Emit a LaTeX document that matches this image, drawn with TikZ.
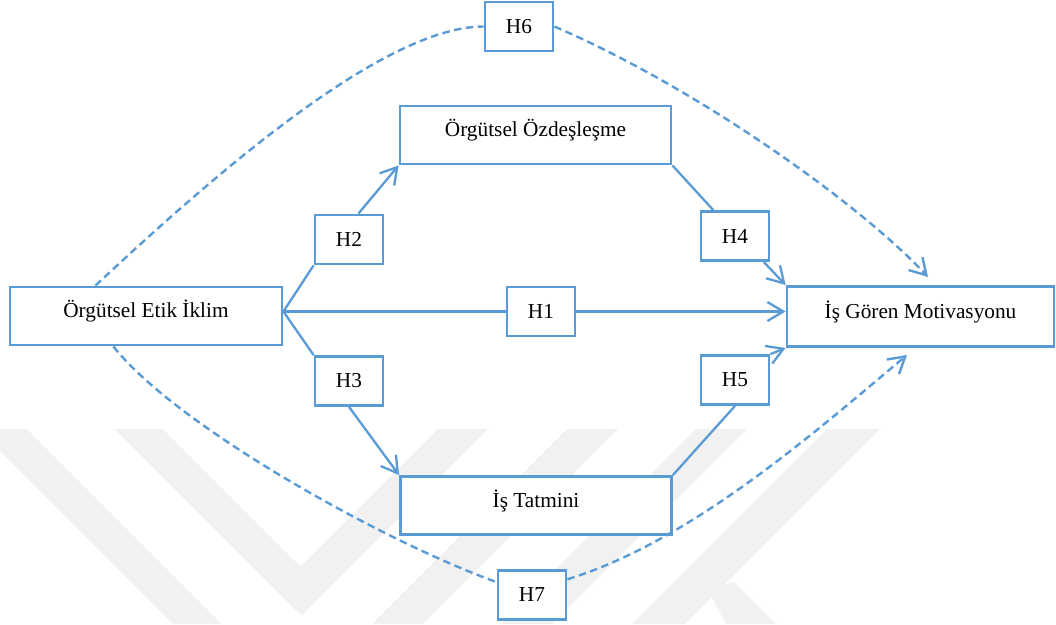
\documentclass[tikz,border=0pt]{standalone}
\usepackage{fontspec}
\setmainfont{Liberation Serif}
\usetikzlibrary{arrows.meta,calc}
\definecolor{lineblue}{HTML}{5B9BD5}
\definecolor{wmgray}{HTML}{F1F1F1}
\begin{document}
\begin{tikzpicture}[x=1pt,y=-1pt,
  every node/.style={font=\fontsize{21.3}{25}\selectfont},
  concept/.style={draw=lineblue, line width=2.8pt, fill=white,
    minimum width=#1, minimum height=58pt, inner sep=0pt,
    text height=12pt, text depth=9pt},
  hyp/.style={draw=lineblue, line width=2.8pt, fill=white,
    minimum width=68pt, minimum height=49pt, inner sep=0pt},
  link/.style={draw=lineblue, line width=2.3pt},
  arrowlink/.style={link, -{Straight Barb[length=16pt,width=19pt]}},
  dashlink/.style={link, line width=2.4pt, dash pattern=on 7.5pt off 4.5pt},
  dasharrow/.style={dashlink, -{Straight Barb[length=16pt,width=19pt]}},
]
% canvas
\fill[white] (0,0) rectangle (1056,624);
\useasboundingbox (0,0) rectangle (1056,624);

% pale background logo
\fill[wmgray] (-22,429) -- (27,429) -- (222,624) -- (173,624) -- cycle;
\fill[wmgray] (115,429) -- (163,429) -- (300.5,566.5) -- (438,429)
  -- (488,429) -- (301.5,615.5) -- cycle;
\fill[wmgray] (567,429) -- (618,429) -- (423,624) -- (372,624) -- cycle;
\fill[wmgray] (696,429) -- (747,429) -- (552,624) -- (501,624) -- cycle;
\fill[wmgray] (827,429) -- (880,429) -- (685,624) -- (632,624) -- cycle;
\fill[wmgray] (708,590) -- (734,582) -- (776,624) -- (726,624) -- cycle;

% constructs
\node[concept=272pt] (etik) at (146,316) {Örgütsel Etik İklim};
\node[concept=271pt] (oz) at (535.5,135) {Örgütsel Özdeşleşme};
\node[concept=271pt] (tm) at (536,505.5) {İş Tatmini};
\node[concept=267pt, minimum height=60pt] (mot) at (920.5,316.5) {İş Gören Motivasyonu};

% hypotheses
\node[hyp] (h6) at (519,26.5) {H6};
\node[hyp] (h2) at (349,239.5) {H2};
\node[hyp] (h3) at (349,381) {H3};
\node[hyp] (h4) at (735,236) {H4};
\node[hyp] (h5) at (735,380) {H5};
\node[hyp] (h1) at (541,311.5) {H1};
\node[hyp] (h7) at (532,595) {H7};

\coordinate (hub) at (etik.east |- h1);
\coordinate (e6) at (928,277);
\coordinate (e7) at (907,355);

% direct effects
\draw[link] (hub) -- (h1);
\draw[arrowlink] (h1) -- (h1 -| mot.west);
\draw[link] (hub) -- (h2.south west);
\draw[arrowlink] (h2.70) -- (oz.south west);
\draw[link] (hub) -- (h3.north west);
\draw[arrowlink] (h3.south) -- (tm.north west);
\draw[link] (oz.south east) -- (h4.130);
\draw[arrowlink] (h4.-42) -- (mot.north west);
\draw[link] (tm.north east) -- (h5.south);
\draw[arrowlink] (h5.north east) -- (mot.south west);

% mediated effects
\draw[dashlink] (etik.149) .. controls +(102,-95) and +(-105,0) .. (h6.west);
\draw[dasharrow] (h6.east) .. controls +(142,61) and +(-68,-73) .. (e6);
\draw[dashlink] (etik.-137) .. controls +(62,79) and +(-114,-41) .. (h7.160);
\draw[dasharrow] (h7.24) .. controls +(124,-38) and +(-92,77) .. (e7);
\end{tikzpicture}
\end{document}
